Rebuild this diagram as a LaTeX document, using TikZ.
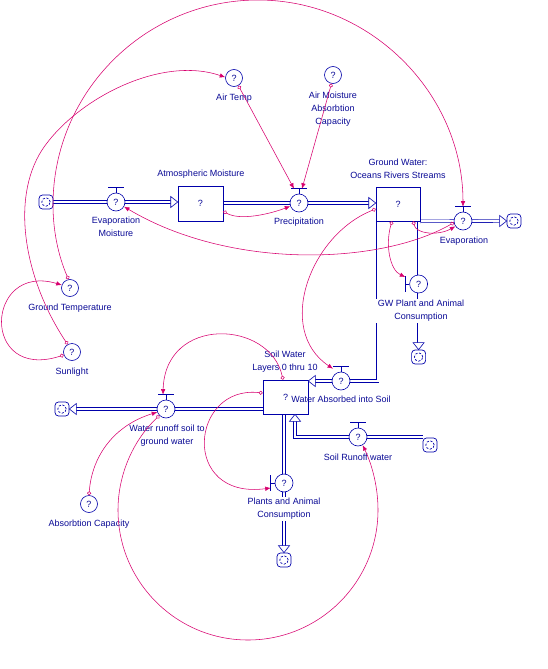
\documentclass[tikz,border=0pt]{standalone}
\usepackage{fontspec}
\setmainfont{Liberation Sans}
\usetikzlibrary{arrows.meta,calc,backgrounds}
\definecolor{pipeblue}{RGB}{0,0,170}
\definecolor{txtblue}{RGB}{10,10,150}
\definecolor{mag}{RGB}{215,0,110}
\tikzset{
  lbl/.style={font=\fontsize{9}{12.7}\selectfont, text=txtblue, align=center, inner sep=1pt, fill=white},
  qfont/.style={font=\fontsize{9}{10}\selectfont, text=txtblue},
  aux/.style={circle, draw=pipeblue, line width=0.6pt, minimum size=17pt, inner sep=0pt, fill=white, qfont},
  valve/.style={aux, minimum size=18pt},
  stock/.style={rectangle, draw=pipeblue, line width=0.6pt, fill=white, inner sep=0pt, qfont},
  sink/.style={rectangle, rounded corners=3.5pt, draw=pipeblue, line width=0.7pt, minimum size=14pt, inner sep=0pt, fill=white,
    path picture={\draw[pipeblue, line width=0.7pt, dash pattern=on 2.2pt off 1.6pt] (path picture bounding box.center) circle (4.2pt);}},
  pipe/.style={draw=pipeblue, line width=0.6pt, double=white, double distance=2.2pt},
  tipbox/.style={draw=pipeblue, line width=0.6pt, fill=white, line join=miter},
  handle/.style={draw=pipeblue, line width=0.8pt},
  conn/.style={draw=mag, line width=0.55pt, {Circle[open,length=4pt,width=4pt]}-{Latex[length=5.5pt,width=4.5pt]}},
}
\newcommand\tophandle[1]{\draw[handle] (#1.north) -- ++(0,-5) coordinate (#1h) ++(-8,0) -- ++(16,0);}
\newcommand\lefthandle[1]{\draw[handle] (#1.west) -- ++(-4,0) coordinate (#1h) ++(0,-8) -- ++(0,16);}
\begin{document}
\begin{tikzpicture}[x=1pt,y=-1pt]
\useasboundingbox (0,0) rectangle (548,669);
% stocks
\node[stock, minimum width=45pt, minimum height=35pt] (am) at (200.5,203.5) {?};
\node[stock, minimum width=44pt, minimum height=34pt] (gw) at (398,204) {?};
\node[stock, minimum width=45pt, minimum height=34pt] (sw) at (285.5,397) {?};
% valves
\node[valve] (em) at (116,202) {?};
\node[valve] (pr) at (299,203) {?};
\node[valve] (ev) at (463,221) {?};
\node[valve] (gwp) at (418.6,284) {?};
\node[valve] (wa) at (341,381) {?};
\node[valve] (wr) at (166,409) {?};
\node[valve] (pa) at (284,483) {?};
\node[valve] (sr) at (358,437) {?};
% sources / sinks
\node[sink] (c1) at (46,202) {};
\node[sink] (c2) at (514,221) {};
\node[sink] (c3) at (418.6,357) {};
\node[sink] (c4) at (62,409) {};
\node[sink] (c5) at (284,560) {};
\node[sink] (c6) at (430,445) {};
% auxiliaries
\node[aux] (airt) at (234,78) {?};
\node[aux] (amac) at (333,75) {?};
\node[aux] (gt) at (70,288) {?};
\node[aux] (sl) at (72,352) {?};
\node[aux] (ac) at (89,504) {?};
% handles
\tophandle{em}
\tophandle{pr}
\tophandle{ev}
\tophandle{wa}
\tophandle{wr}
\tophandle{sr}
\lefthandle{gwp}
\lefthandle{pa}
% pipes
\begin{scope}[on background layer]
\draw[pipe, shorten >=7pt] (c1.east) -- (am.west |- em);
\draw[pipe, shorten >=7pt] (am.east |- pr) -- (gw.west |- pr);
\draw[pipe, shorten >=7pt] (gw.south east) -- (c2.west);
\coordinate (gwl) at ($(gw.south west)+(2,0)$);
\draw[pipe, shorten >=7pt] (gwl) |- (wa.center) -- (sw.east |- wa);
\draw[pipe, shorten >=7pt] (gw.south east -| gwp) -- (c3.north);
\draw[pipe, shorten >=7pt] (sw.west |- wr) -- (c4.east);
\draw[pipe, shorten >=7pt] (sw.south -| pa) -- (c5.north);
\coordinate (sx) at (295,0);
\draw[pipe, shorten >=7pt] (c6.west |- sr) -- (sr.center) -| (sx |- sw.south);
\end{scope}
% pipe tips
\draw[tipbox] (am.west |- em) -- ++(-7,-5.5) -- ++(0,11) -- cycle;
\draw[tipbox] (gw.west |- pr) -- ++(-7,-5.5) -- ++(0,11) -- cycle;
\draw[tipbox] (c2.west) -- ++(-7,-5.5) -- ++(0,11) -- cycle;
\draw[tipbox] (sw.east |- wa) -- ++(7,-5.5) -- ++(0,11) -- cycle;
\draw[tipbox] (c3.north) -- ++(-5.5,-7) -- ++(11,0) -- cycle;
\draw[tipbox] (c4.east) -- ++(7,-5.5) -- ++(0,11) -- cycle;
\draw[tipbox] (c5.north) -- ++(-5.5,-7) -- ++(11,0) -- cycle;
\draw[tipbox] (sx |- sw.south) -- ++(-5.5,7) -- ++(11,0) -- cycle;
% labels
\node[lbl] (emL) at (116,227) {Evaporation\\Moisture};
\node[lbl] (amL) at (201,174) {Atmospheric Moisture};
\node[lbl] (prL) at (299,222) {Precipitation};
\node[lbl] (gwL) at (398,168.5) {Ground Water:\\Oceans Rivers Streams};
\node[lbl] (evL) at (464,241) {Evaporation};
\node[lbl, inner xsep=3pt] (gwpL) at (421,311) {GW Plant and Animal\\Consumption};
\node[lbl, fill=none] (waL) at (341,399) {Water Absorbed into Soil};
\node[lbl] (swL) at (285,361.5) {Soil Water\\Layers 0 thru 10};
\node[lbl] (wrL) at (167,435.5) {Water runoff soil to\\ground water};
\node[lbl] (paL) at (284,509) {Plants and Animal\\Consumption};
\node[lbl] (srL) at (358,457) {Soil Runoff water};
\node[lbl] (atL) at (234,98) {Air Temp};
\node[lbl] (amacL) at (333,109) {Air Moisture\\Absorbtion\\Capacity};
\node[lbl] (gtL) at (70,308) {Ground Temperature};
\node[lbl] (slL) at (72,372) {Sunlight};
\node[lbl] (acL) at (89,524.5) {Absorbtion Capacity};
% connectors
\draw[conn] (airt.-60) -- ($(prh)+(-5,0)$);
\draw[conn] (amac.-100) -- ($(prh)+(3,0)$);
\draw[conn] ([yshift=10pt]am.south east) .. controls (240,221) and (270,214) .. (pr.200);
\draw[conn] (sl.120) .. controls (25,280) and (10,200) .. (42,150) .. controls (75,100) and (160,55) .. (airt.175);
\draw[conn] (gt.100) .. controls (58,255) and (53,230) .. (53,205) .. controls (53,92) and (145,0) .. (258,0) .. controls (371,0) and (463,94) .. (evh);
\draw[conn] (ev.190) .. controls (380,265) and (230,270) .. (em.-30);
\draw[conn] ([xshift=-7pt]gw.south east) .. controls (416,234) and (438,236) .. (ev.215);
\draw[conn] ([xshift=-6pt]gw.south) .. controls (385,245) and (390,270) .. ($(gwph)+(0,-7)$);
\draw[conn] ([yshift=-5pt]gw.west) .. controls (310,235) and (275,330) .. ($(wah)+(-8,2)$);
\draw[conn] (sl.200) .. controls (-20,382) and (-15,262) .. (gt.160);
\draw[conn] (wr.-135) .. controls (133.7,439.6) and (118,474) .. (118,510) .. controls (118,581.8) and (176.2,640) .. (248,640) .. controls (319.8,640) and (378,581.8) .. (378,510) .. controls (378,488) and (372.7,466.2) .. (sr.-60);
\draw[conn] (ac.90) .. controls (92,455) and (115,425) .. (wr.200);
\draw[conn] ([xshift=-2.5pt]sw.north) .. controls (270,320) and (165,315) .. ($(wrh)+(-3,0)$);
\draw[conn] ([yshift=4pt]sw.west) .. controls (190,385) and (180,500) .. ($(pah)+(0,5)$);
\end{tikzpicture}
\end{document}
